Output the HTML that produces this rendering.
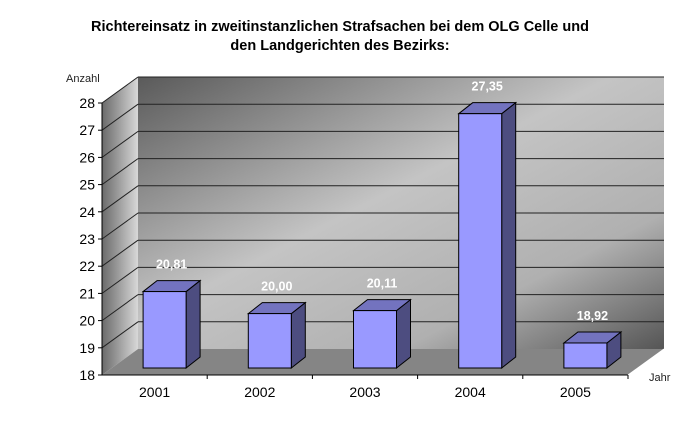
<!DOCTYPE html>
<html><head><meta charset="utf-8">
<style>
html,body{margin:0;padding:0;background:#fff;}
svg{display:block;font-family:"Liberation Sans",Arial,sans-serif;}
</style></head>
<body>
<svg id="chart" width="700" height="436" viewBox="0 0 700 436">
<defs>
<linearGradient id="wallG" x1="0" y1="0" x2="1" y2="1">
<stop offset="0" stop-color="#5a5a5a"/><stop offset="0.45" stop-color="#c4c4c4"/><stop offset="0.75" stop-color="#b0b0b0"/><stop offset="1" stop-color="#555"/>
</linearGradient>
<linearGradient id="sideG" x1="0" y1="0" x2="1" y2="0">
<stop offset="0" stop-color="#6a6a6a"/><stop offset="1" stop-color="#d8d8d8"/>
</linearGradient>
</defs>
<text x="340" y="31" text-anchor="middle" font-size="14.5" font-weight="bold">Richtereinsatz in zweitinstanzlichen Strafsachen bei dem OLG Celle und</text>
<text x="340" y="50" text-anchor="middle" font-size="14.5" font-weight="bold">den Landgerichten des Bezirks:</text>
<text x="66" y="82" font-size="11" fill="#222">Anzahl</text>
<text x="649" y="381" font-size="11" fill="#222">Jahr</text>
<g id="plot"></g>
</svg>
<script>
const categories = ["2001","2002","2003","2004","2005"];
const values = [20.81, 20.00, 20.11, 27.35, 18.92];
const valueLabels = ["20,81","20,00","20,11","27,35","18,92"];
const yTicks = [18,19,20,21,22,23,24,25,26,27,28];

const NS="http://www.w3.org/2000/svg";
const g=document.getElementById('plot');
const X0=102, X1=628, YB=375, UNIT=27.2, DX=36, DY=26, YMIN=18;
const band=(X1-X0)/categories.length;
function yFront(v){return YB-(v-YMIN)*UNIT;}
function mk(t,a){const e=document.createElementNS(NS,t);for(const k in a)e.setAttribute(k,a[k]);g.appendChild(e);return e;}

// back wall
let e=mk('rect',{x:X0+DX,y:yFront(28)-DY,width:X1-X0,height:(28-YMIN)*UNIT,fill:'url(#wallG)'});


// side wall
e=mk('polygon',{points:`${X0},${yFront(28)} ${X0+DX},${yFront(28)-DY} ${X0+DX},${YB-DY} ${X0},${YB}`,fill:'url(#sideG)'});


// floor
e=mk('polygon',{points:`${X0},${YB} ${X0+DX},${YB-DY} ${X1+DX},${YB-DY} ${X1},${YB}`,fill:'#858585'});



yTicks.forEach(v=>{
  const yf=yFront(v), yb=yf-DY;
  if(v>YMIN){
    e=mk('line',{x1:X0+DX,y1:yb,x2:X1+DX,y2:yb,stroke:'#222','stroke-width':1});
    
    
    e=mk('line',{x1:X0,y1:yf,x2:X0+DX,y2:yb,stroke:'#222','stroke-width':1});
    
    
  }
  e=mk('line',{x1:X0-4,y1:yf,x2:X0,y2:yf,stroke:'#000'});
  
  
  e=mk('text',{x:X0-7,y:yf+5,'text-anchor':'end','font-size':14});
  e.textContent=v;
  
  
});
// axes
e=mk('line',{x1:X0,y1:yFront(28),x2:X0,y2:YB,stroke:'#000'});


e=mk('line',{x1:X0,y1:YB,x2:X1,y2:YB,stroke:'#000'});


e=mk('line',{x1:X1,y1:YB,x2:X1+DX,y2:YB-DY,stroke:'#fff'});



const BW=43, BD=14, BDY=11, OFFX=10, BASE=368;
categories.forEach((c,i)=>{
  const v=values[i];
  const xl=X0+band*i+band/2-BW/2+OFFX;
  const yt=BASE-(v-YMIN)*UNIT;
  e=mk('polygon',{points:`${xl+BW},${yt} ${xl+BW+BD},${yt-BDY} ${xl+BW+BD},${BASE-BDY} ${xl+BW},${BASE}`,fill:'#4d4d80',stroke:'#000','stroke-width':1});
  
  
  e=mk('polygon',{points:`${xl},${yt} ${xl+BD},${yt-BDY} ${xl+BW+BD},${yt-BDY} ${xl+BW},${yt}`,fill:'#7373bf',stroke:'#000','stroke-width':1});
  
  
  e=mk('rect',{x:xl,y:yt,width:BW,height:BASE-yt,fill:'#9999ff',stroke:'#000','stroke-width':1});
  
  
  e=mk('text',{x:xl+BW/2+7,y:yt-23,'text-anchor':'middle','font-size':12.5,'font-weight':'bold',fill:'#fff'});
  e.textContent=valueLabels[i];
  
  
  const cx=X0+band*i+band/2;
  e=mk('text',{x:cx,y:397,'text-anchor':'middle','font-size':14});
  e.textContent=c;
  
  
  e=mk('line',{x1:X0+band*(i+1),y1:YB,x2:X0+band*(i+1),y2:YB+4,stroke:'#000'});
  
  
});
</script>
</body></html>
